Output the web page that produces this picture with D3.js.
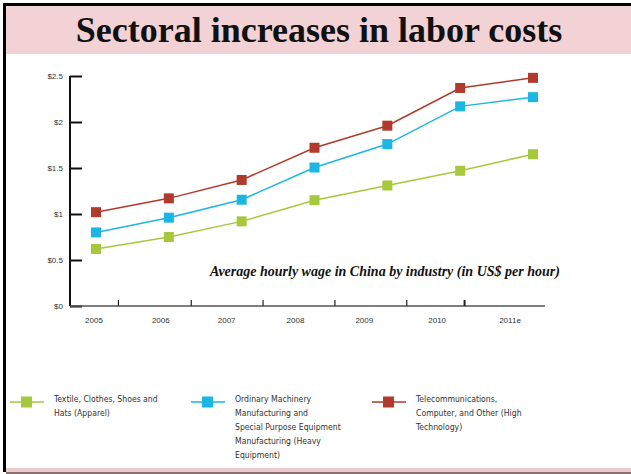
<!DOCTYPE html>
<html><head><meta charset="utf-8">
<script src="https://cdn.jsdelivr.net/npm/d3@7/dist/d3.min.js"></script>
<style>html,body{margin:0;padding:0;background:#fff;}svg{display:block;}</style>
</head><body>
<script>
const years = ["2005","2006","2007","2008","2009","2010","2011e"];
const apparel = [0.62,0.75,0.92,1.15,1.31,1.47,1.65];
const heavy   = [0.80,0.96,1.155,1.505,1.76,2.17,2.27];
const hitech  = [1.02,1.17,1.37,1.72,1.96,2.37,2.48];
const yTicks = [0,0.5,1,1.5,2,2.5];
const yTickLabels = ["$0","$0.5","$1","$1.5","$2","$2.5"];
const seriesNames = ["Textile, Clothes, Shoes and|Hats (Apparel)",
  "Ordinary Machinery|Manufacturing and|Special Purpose Equipment|Manufacturing (Heavy|Equipment)",
  "Telecommunications,|Computer, and Other (High|Technology)"];
const colors = ["#a6c83a","#1bb6e2","#b23a2c"];
const series = [apparel, heavy, hitech];

const W=631,H=474;
const svg=d3.select("body").append("svg").attr("width",W).attr("height",H);
// frame
svg.append("rect").attr("x",0).attr("y",0).attr("width",W).attr("height",H).attr("fill","#fff");
svg.append("rect").attr("x",6).attr("y",6).attr("width",W-6).attr("height",48).attr("fill","#f2d2d5");
svg.append("rect").attr("x",6).attr("y",468).attr("width",W-6).attr("height",4).attr("fill","#eccacd");
svg.append("rect").attr("x",6).attr("y",472).attr("width",W-6).attr("height",2).attr("fill","#8a7072");
svg.append("rect").attr("x",3).attr("y",3).attr("width",W-3).attr("height",3).attr("fill","#000");
svg.append("rect").attr("x",3).attr("y",3).attr("width",3).attr("height",469).attr("fill","#000");

svg.append("text").attr("x",319).attr("y",42).attr("text-anchor","middle")
  .attr("font-family","'Liberation Serif','Times New Roman',serif").attr("font-weight","bold")
  .attr("font-size",36).attr("fill","#111").text("Sectoral increases in labor costs");

const x=d3.scalePoint().domain(years).range([96,533]);
const y=d3.scaleLinear().domain([0,2.5]).range([306,76]);

// y axis
const ya=svg.append("g").attr("transform","translate(70,0)")
  .call(d3.axisRight(y).tickValues(yTicks).tickSize(12).tickFormat(""));
ya.select(".domain").attr("stroke","#111").attr("stroke-width",2).attr("d","M0,"+y(2.5)+"V"+y(0));
ya.selectAll(".tick line").attr("stroke","#111").attr("stroke-width",2);
svg.append("g").selectAll("text").data(yTicks).join("text")
  .attr("x",63).attr("y",d=>y(d)+3).attr("text-anchor","end")
  .attr("font-family","'Liberation Sans',Arial,sans-serif").attr("font-size",8).attr("fill","#333")
  .text((d,i)=>yTickLabels[i]);

// x axis
svg.append("line").attr("x1",70).attr("x2",545).attr("y1",y(0)).attr("y2",y(0)).attr("stroke","#555").attr("stroke-width",1.5);
const step=x.step();
const tickShift=[-14,-14,-15,-16,-17,-32];
svg.append("g").selectAll("line").data(years.slice(0,-1)).join("line")
  .attr("x1",(d,i)=>x(d)+step/2+tickShift[i]).attr("x2",(d,i)=>x(d)+step/2+tickShift[i])
  .attr("y1",y(0)).attr("y2",y(0)-6).attr("stroke","#222").attr("stroke-width",(d,i)=>i==5?2:1.2);
const labShift=[-2,-8,-15,-19,-23,-23,-23];
svg.append("g").selectAll("text").data(years).join("text")
  .attr("x",(d,i)=>x(d)+labShift[i])
  .attr("y",y(0)+17).attr("text-anchor","middle")
  .attr("font-family","'Liberation Sans',Arial,sans-serif").attr("font-size",8).attr("fill","#333").text(d=>d);

// lines
const line=d3.line().x((d,i)=>x(years[i])).y(d=>y(d));
series.forEach((s,k)=>{
  svg.append("path").attr("d",line(s)).attr("fill","none").attr("stroke",colors[k]).attr("stroke-width",1.5);
  svg.append("g").selectAll("rect").data(s).join("rect")
    .attr("x",(d,i)=>x(years[i])-5).attr("y",d=>y(d)-5).attr("width",10).attr("height",10).attr("fill",colors[k]);
});

svg.append("text").attr("x",385).attr("y",276).attr("text-anchor","middle")
  .attr("font-family","'Liberation Serif','Times New Roman',serif").attr("font-weight","bold").attr("font-style","italic")
  .attr("font-size",14).attr("fill","#111").text("Average hourly wage in China by industry (in US$ per hour)");

// legend
const lx=[10,191,372];
seriesNames.forEach((n,k)=>{
  const g=svg.append("g").attr("transform","translate("+lx[k]+",402)");
  g.append("line").attr("x1",0).attr("x2",34).attr("y1",0).attr("y2",0).attr("stroke",colors[k]).attr("stroke-width",1.5);
  g.append("rect").attr("x",11).attr("y",-5.5).attr("width",11).attr("height",11).attr("fill",colors[k]);
  const t=g.append("text").attr("x",44).attr("y",-1).attr("font-family","'Liberation Sans Narrow','DejaVu Sans Condensed','Liberation Sans',sans-serif")
    .attr("font-size",8.6).attr("fill","#333");
  n.split("|").forEach((ln,j)=>t.append("tspan").attr("x",44).attr("y",0+j*14).text(ln));
});
</script>
</body></html>
